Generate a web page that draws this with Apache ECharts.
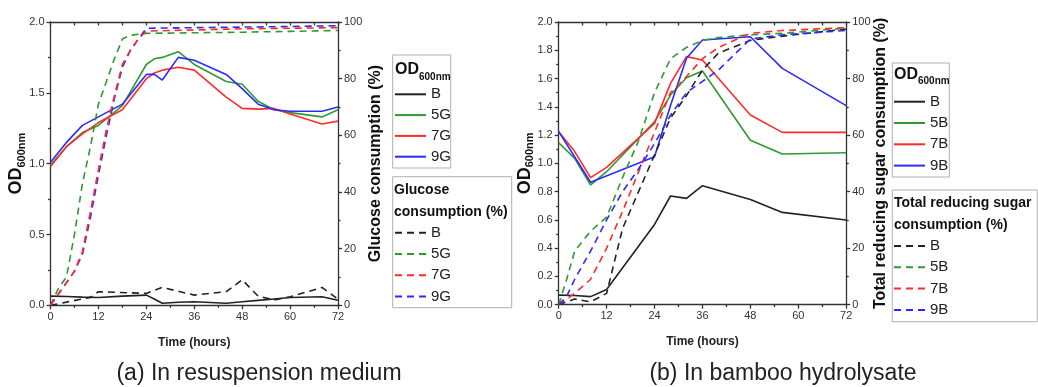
<!DOCTYPE html>
<html>
<head>
<meta charset="utf-8">
<script src="https://cdn.jsdelivr.net/npm/echarts/dist/echarts.min.js"></script>
<style>
html,body{margin:0;padding:0;background:#fff;}
#chart{width:1038px;height:387px;}
</style>
</head>
<body>
<div id="chart"></div>
<script>
// ---------- DATA ----------
// (a) resuspension medium, OD600nm (solid)
const aTimesOD = [0,4,8,12,18,24,26,28,32,36,44,48,52,56,60,68,72];
const aOD_B  = [0.065,0.062,0.058,0.055,0.065,0.072,0.045,0.015,0.022,0.025,0.014,0.025,0.035,0.045,0.055,0.06,0.035];
const aOD_5G = [0.99,1.12,1.22,1.27,1.41,1.70,1.74,1.75,1.79,1.70,1.58,1.56,1.44,1.38,1.36,1.33,1.38];
const aOD_7G = [0.98,1.12,1.21,1.29,1.38,1.60,1.64,1.66,1.68,1.66,1.47,1.39,1.385,1.39,1.35,1.28,1.30];
const aOD_9G = [1.01,1.15,1.27,1.33,1.42,1.63,1.63,1.59,1.75,1.73,1.63,1.53,1.42,1.38,1.37,1.37,1.40];
// (a) glucose consumption % (dashed)
const aTimesB  = [0,10,12,24,28,36,44,48,52,56,60,68,72];
const aGlc_B   = [0,2.8,4.8,4.2,6.3,3.6,4.8,9,3.2,1.9,3,6.3,2.2];
const aTimesGlc = [0,2,4,6,8,10,12,14,16,18,20,22,24,36,48,60,72];
const aGlc_5G = [0,6,10,25,43,56,71,79,87,94,95.3,95.7,96,96.2,96.4,96.7,97];
const aGlc_7G = [0,4,8,12,19,33,48,62,74,85,90,94,96.8,97.2,97.6,97.8,98];
const aGlc_9G = [0,4,8,12,18,31,46,60,73,84,90,94,97.8,98,98.2,98.4,98.7];

// (b) bamboo hydrolysate, OD600nm (solid)
const bTimesOD = [0,4,8,12,24,28,32,36,48,56,72];
const bOD_B  = [0.068,0.065,0.057,0.108,0.568,0.769,0.752,0.842,0.745,0.653,0.599];
const bOD_5B = [1.146,1.035,0.847,0.941,1.295,1.483,1.606,1.653,1.163,1.066,1.075];
const bOD_7B = [1.224,1.083,0.899,0.972,1.283,1.566,1.755,1.731,1.342,1.219,1.219];
const bTimesOD9 = [0,8,24,28,32,36,48,56,72];
const bOD_9B = [1.224,0.866,1.047,1.41,1.743,1.873,1.896,1.672,1.408];
// (b) total reducing sugar consumption % (dashed)
const bTimesSug = [0,2,4,8,12,16,20,24,28,32,36,40,48,56,72];
const bSug_B  = [0,1,2,1,4,27,40,53,66,74,83,89,93.5,95,97.5];
const bSug_5B = [0,9,19,26,31,45,58,75,87,91,93.5,94.5,95.5,96,97.8];
const bSug_7B = [0,2,4,9,20,33,47,61,75,80.7,87,91,96,97,98];
const bSug_9B = [0,3,9,19,30,40,48,57,67,75,79,83,94,95.5,97];

const xTicks = {min:0, max:72, step:12};
const odTicksA = {min:0, max:2, step:0.5};
const odTicksB = {min:0, max:2, step:0.2};
const pctTicks = {min:0, max:100, step:20};

// ---------- STYLE ----------
const FONT = "'Liberation Sans',Arial,sans-serif";
const C = {B:'#222222', g:'#2f9a2f', r:'#ff2b2b', b:'#2b2bff'};
const AX = '#333';

function mk(id, times, vals, color, dashed, xi, yi){
  return {type:'line', name:id, xAxisIndex:xi, yAxisIndex:yi,
    data: times.map((t,i)=>[t, vals[i]]), symbol:'none', showSymbol:false, silent:true,
    lineStyle:{color:color, width:1.6, type: dashed ? [7,5] : 'solid'},
    itemStyle:{color:color}, z: dashed ? 3 : 2};
}
const labelOf = {};
function reg(id,label){labelOf[id]=label; return id;}

const series = [
  // (a) dashed
  mk(reg('aB_c','B'),   aTimesB,   aGlc_B,  C.B, true, 0, 1),
  mk(reg('a5G_c','5G'), aTimesGlc, aGlc_5G, C.g, true, 0, 1),
  mk(reg('a9G_c','9G'), aTimesGlc, aGlc_9G, C.b, true, 0, 1),
  mk(reg('a7G_c','7G'), aTimesGlc, aGlc_7G, C.r, true, 0, 1),
  // (a) solid
  mk(reg('aB','B'),   aTimesOD, aOD_B,  C.B, false, 0, 0),
  mk(reg('a5G','5G'), aTimesOD, aOD_5G, C.g, false, 0, 0),
  mk(reg('a7G','7G'), aTimesOD, aOD_7G, C.r, false, 0, 0),
  mk(reg('a9G','9G'), aTimesOD, aOD_9G, C.b, false, 0, 0),
  // (b) dashed
  mk(reg('bB_c','B'),   bTimesSug, bSug_B,  C.B, true, 2, 3),
  mk(reg('b5B_c','5B'), bTimesSug, bSug_5B, C.g, true, 2, 3),
  mk(reg('b7B_c','7B'), bTimesSug, bSug_7B, C.r, true, 2, 3),
  mk(reg('b9B_c','9B'), bTimesSug, bSug_9B, C.b, true, 2, 3),
  // (b) solid
  mk(reg('bB','B'),   bTimesOD,  bOD_B,  C.B, false, 2, 2),
  mk(reg('b5B','5B'), bTimesOD,  bOD_5B, C.g, false, 2, 2),
  mk(reg('b7B','7B'), bTimesOD,  bOD_7B, C.r, false, 2, 2),
  mk(reg('b9B','9B'), bTimesOD9, bOD_9B, C.b, false, 2, 2)
];

const lineS = {color:AX, width:1.3};
function xBottom(g){
  return {type:'value', gridIndex:g, min:xTicks.min, max:xTicks.max, interval:xTicks.step,
    axisLine:{onZero:false, lineStyle:lineS}, axisTick:{length:4, lineStyle:lineS},
    minorTick:{show:true, splitNumber:2, length:2.5, lineStyle:lineS},
    splitLine:{show:false}, axisLabel:{fontSize:11, color:'#333', margin:6, fontFamily:FONT},
    name:'Time (hours)', nameLocation:'middle', nameGap:31,
    nameTextStyle:{fontSize:12, fontWeight:'bold', color:'#222', fontFamily:FONT}};
}
function xTop(g){
  return {type:'value', gridIndex:g, position:'top', min:xTicks.min, max:xTicks.max, interval:6,
    axisLine:{onZero:false, lineStyle:lineS}, axisTick:{inside:true, length:3.5, lineStyle:lineS},
    axisLabel:{show:false}, splitLine:{show:false}};
}
function yLeft(g, t, dec, gap){
  return {type:'value', gridIndex:g, min:t.min, max:t.max, interval:t.step,
    axisLine:{show:true, onZero:false, lineStyle:lineS}, axisTick:{show:true, length:4, lineStyle:lineS},
    minorTick:{show:true, splitNumber:2, length:2.5, lineStyle:lineS},
    splitLine:{show:false},
    axisLabel:{fontSize:11, color:'#333', margin:6, fontFamily:FONT, formatter:v=>v.toFixed(dec)},
    name:'{a|OD}{b|600nm}', nameLocation:'middle', nameRotate:90, nameGap:gap, nameMoveOverlap:false,
    nameTextStyle:{fontFamily:FONT, rich:{
      a:{fontSize:18, fontWeight:'bold', color:'#111', fontFamily:FONT, padding:[0,0,2,0], verticalAlign:'bottom'},
      b:{fontSize:11, fontWeight:'bold', color:'#111', fontFamily:FONT, verticalAlign:'bottom'}}}};
}
function yRight(g, name, gap){
  return {type:'value', gridIndex:g, position:'right', min:pctTicks.min, max:pctTicks.max, interval:pctTicks.step,
    axisLine:{show:true, onZero:false, lineStyle:lineS}, axisTick:{show:true, length:4, lineStyle:lineS},
    minorTick:{show:true, splitNumber:2, length:2.5, lineStyle:lineS},
    splitLine:{show:false}, axisLabel:{fontSize:11, color:'#333', margin:6, fontFamily:FONT},
    name:name, nameLocation:'middle', nameRotate:90, nameGap:gap, nameMoveOverlap:false,
    nameTextStyle:{fontSize:16, fontWeight:'bold', color:'#111', fontFamily:FONT}};
}

function legend(ids, left, top, gap){
  return {show:true, orient:'vertical', left:left, top:top, padding:0, itemGap:gap,
    itemWidth:31, itemHeight:14, selectedMode:false, data:ids,
    formatter: n => labelOf[n],
    itemStyle:{opacity:0},
    textStyle:{fontSize:15, lineHeight:16, color:'#222', fontFamily:FONT}};
}

function titleText(x, y, txt, size){
  return {type:'text', x:x, y:y, silent:true,
    style:{text:txt, fill:'#111', fontSize:size||14, fontWeight:'bold', fontFamily:FONT, align:'left', verticalAlign:'middle'}};
}
function odTitle(x, y){
  return {type:'text', x:x, y:y, silent:true,
    style:{text:'{a|OD}{b|600nm}', align:'left', verticalAlign:'middle', fontFamily:FONT, rich:{
      a:{fontSize:16, fontWeight:'bold', fill:'#111', fontFamily:FONT, padding:[0,0,4,0], verticalAlign:'bottom'},
      b:{fontSize:10, fontWeight:'bold', fill:'#111', fontFamily:FONT, verticalAlign:'bottom'}}}};
}
function box(x,y,w,h){
  return {type:'rect', silent:true, shape:{x:x,y:y,width:w,height:h},
    style:{fill:'none', stroke:'#b0b0b0', lineWidth:1}};
}
function caption(x,y,txt){
  return {type:'text', x:x, y:y, silent:true,
    style:{text:txt, fill:'#222', fontSize:23, fontFamily:FONT, align:'center', verticalAlign:'middle'}};
}

const option = {
  animation:false,
  backgroundColor:'#fff',
  textStyle:{fontFamily:FONT},
  grid:[
    {left:50.5, top:22, width:287.5, height:283.3},
    {left:558.7, top:22, width:287.5, height:282.7}
  ],
  xAxis:[xBottom(0), xTop(0), xBottom(1), xTop(1)],
  yAxis:[yLeft(0, odTicksA, 1, 23), yRight(0, 'Glucose consumption (%)', 30),
         yLeft(1, odTicksB, 1, 23), yRight(1, 'Total reducing sugar consumption (%)', 26)],
  legend:[
    legend(['aB','a5G','a7G','a9G'], 394, 86.3, 4.8),
    legend(['aB_c','a5G_c','a7G_c','a9G_c'], 394, 224.7, 5.3),
    legend(['bB','b5B','b7B','b9B'], 893, 93.7, 5.3),
    legend(['bB_c','b5B_c','b7B_c','b9B_c'], 893, 238, 5.3)
  ],
  series: series,
  graphic:[
    box(392.7,55,58,113), odTitle(395,72),
    box(392.7,176.7,119,131), titleText(394,190,'Glucose'), titleText(394,211.7,'consumption (%)'),
    box(892.3,63,57,114), odTitle(894,76.7),
    box(892.3,190,145,131.7), titleText(894,203.3,'Total reducing sugar'), titleText(894,225,'consumption (%)'),
    caption(259,374,'(a) In resuspension medium'),
    caption(783,374,'(b) In bamboo hydrolysate')
  ]
};
const chart = echarts.init(document.getElementById('chart'), null, {renderer:'canvas'});
chart.setOption(option);
</script>
</body>
</html>
